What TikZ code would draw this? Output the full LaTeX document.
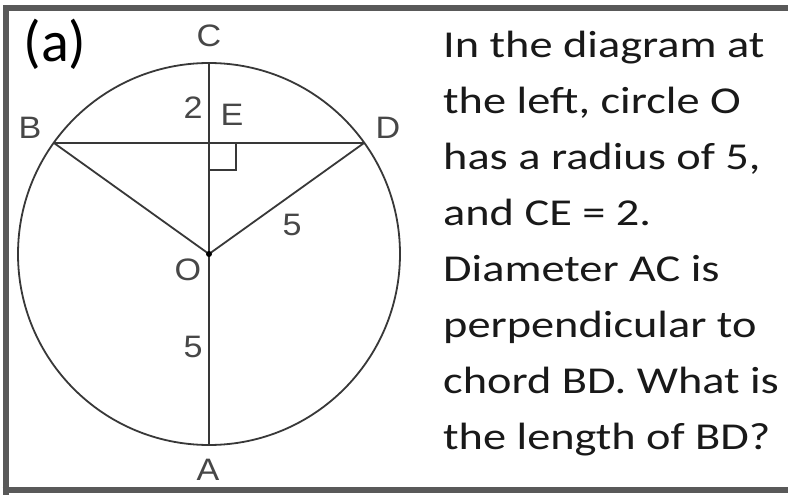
\documentclass[tikz,border=0pt]{standalone}
\usepackage{fontspec}
\setmainfont{Carlito}
\newfontfamily\qfont[FakeStretch=1.22]{Carlito}
\newfontfamily\lblfont[FakeStretch=1.1]{Liberation Sans}
\usetikzlibrary{calc}
\begin{document}
\begin{tikzpicture}[x=1pt,y=-1pt,
  geo/.style={draw=black!78,line width=1.8pt},
  lbl/.style={font=\lblfont\fontsize{31}{31}\selectfont,text=black!72,inner sep=0pt},
  qtext/.style={font=\qfont\fontsize{38}{56.1}\selectfont,align=left,anchor=base west,inner sep=0pt,text=black!90}]
\useasboundingbox (0,0) rectangle (788,495);
\fill[white] (0,0) rectangle (788,495);
% frame
\draw[black!65,line width=6pt] (5.5,495) -- (5.5,8.5) -- (788,8.5);
\draw[black!65,line width=6pt] (2.5,489.5) -- (788,489.5);
% geometry
\coordinate (O) at (209,254);
\coordinate (C) at (209,63);
\coordinate (A) at (209,445);
\coordinate (E) at (209,143);
\coordinate (B) at (54,143);
\coordinate (D) at (364,143);
\draw[geo] (O) circle[radius=191];
\draw[geo] (C) -- (A);
\draw[geo] (B) -- (D);
\draw[geo] (B) -- (O) -- (D);
\draw[geo,line width=1.5pt] ($(E)+(0,27)$) -- ++(27,0) -- ++(0,-27);
\fill[black] (O) circle[radius=3];
% labels
\node[lbl] (lC) at (209,36) {C};
\node[lbl] (lB) at (30,128) {B};
\node[lbl] (lD) at (388,128) {D};
\node[lbl] (lE) at (232,115) {E};
\node[lbl] (l2) at (193,108) {2};
\node[lbl] (lO) at (188,270) {O};
\node[lbl] (l5a) at (292,225) {5};
\node[lbl] (l5b) at (193,347) {5};
\node[lbl] (lA) at (208,470) {A};
\node[inner sep=0pt,font=\fontsize{58}{58}\selectfont] (tag) at (55,44) {(a)};
% text
\node[qtext] (q) at (443,449.7) {In the diagram at\\the left, circle O\\has a radius of 5,\\and CE = 2.\\Diameter AC is\\perpendicular to\\chord BD. What is\\the length of BD?};
\end{tikzpicture}
\end{document}
